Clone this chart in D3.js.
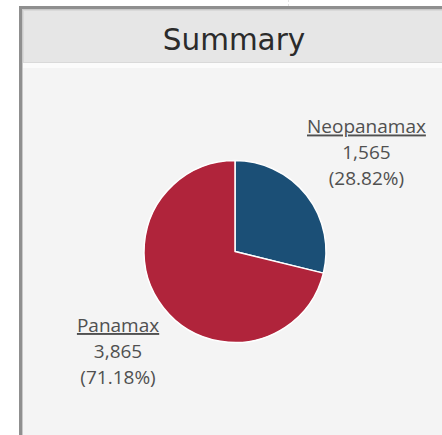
<!DOCTYPE html>
<html>
<head>
<meta charset="utf-8">
<script src="https://cdn.jsdelivr.net/npm/d3@7"></script>
<style>
  html, body { margin: 0; padding: 0; background: #fff; }
  svg { display: block; }
</style>
</head>
<body>
<script>
// Data
const categories = ["Neopanamax", "Panamax"]
const values = [1565, 3865]
const colors = ["#1b4f76", "#b0243b"]

// Layout
const width = 442, height = 435
const cx = 235, cy = 251.5, radius = 91
const labelRadius = 162
const labelNudge = [[4, 2], [10.5, 0.5]]

const svg = d3.select("body").append("svg")
  .attr("width", width)
  .attr("height", height)

// Faint layout guide behind the panel
svg.append("line")
  .attr("x1", 288.5).attr("x2", 288.5)
  .attr("y1", 0).attr("y2", 68)
  .attr("stroke", "#e4e4e4")
  .attr("stroke-dasharray", "2,2")

// Panel frame
svg.append("rect")
  .attr("x", 19).attr("y", 6)
  .attr("width", width).attr("height", height)
  .attr("fill", "#8f8f8f")
svg.append("rect")
  .attr("x", 22).attr("y", 9)
  .attr("width", width).attr("height", height)
  .attr("fill", "#c9c9c9")
// Header
svg.append("rect")
  .attr("x", 23).attr("y", 10)
  .attr("width", width).attr("height", 53)
  .attr("fill", "#d9d9d9")
svg.append("rect")
  .attr("x", 24).attr("y", 11)
  .attr("width", width).attr("height", 51)
  .attr("fill", "#e6e6e6")
// Gap and body
svg.append("rect")
  .attr("x", 23).attr("y", 63)
  .attr("width", width).attr("height", 5)
  .attr("fill", "#fbfbfb")
svg.append("rect")
  .attr("x", 23).attr("y", 68)
  .attr("width", width).attr("height", height)
  .attr("fill", "#f4f4f4")

// Title
svg.append("text")
  .attr("x", 234)
  .attr("y", 50)
  .attr("text-anchor", "middle")
  .attr("font-family", "DejaVu Sans, sans-serif")
  .attr("font-size", "29.5px")
  .attr("fill", "#2b2b2b")
  .text("Summary")

// Pie
const total = d3.sum(values)
const pie = d3.pie().sort(null).value(i => values[i])
const D = pie(d3.range(values.length))
const arc = d3.arc().innerRadius(0).outerRadius(radius)
const labelArc = d3.arc().innerRadius(labelRadius).outerRadius(labelRadius)

const g = svg.append("g").attr("transform", `translate(${cx},${cy})`)
g.selectAll("path")
  .data(D)
  .join("path")
  .attr("d", arc)
  .attr("fill", d => colors[d.data])
  .attr("stroke", "#fff")
  .attr("stroke-width", 1.5)
  .attr("stroke-linejoin", "round")

// Labels
const fmtNum = d3.format(",")
const fmtPct = d3.format(".2%")
const lineOffsets = [-20, 5.5, 31.5]

g.selectAll("text.label")
  .data(D)
  .join("text")
  .attr("class", "label")
  .attr("transform", d => {
    const [x, y] = labelArc.centroid(d)
    const [nx, ny] = labelNudge[d.data]
    return `translate(${x + nx},${y + ny})`
  })
  .attr("text-anchor", "middle")
  .attr("font-family", "Open Sans, sans-serif")
  .attr("font-size", "19px")
  .attr("fill", "#505050")
  .selectAll("tspan")
  .data(d => [categories[d.data], fmtNum(values[d.data]), `(${fmtPct(values[d.data] / total)})`])
  .join("tspan")
  .attr("x", 0)
  .attr("y", (_, i) => lineOffsets[i])
  .style("text-decoration", (_, i) => i ? null : "underline")
  .text(d => d)
</script>
</body>
</html>
